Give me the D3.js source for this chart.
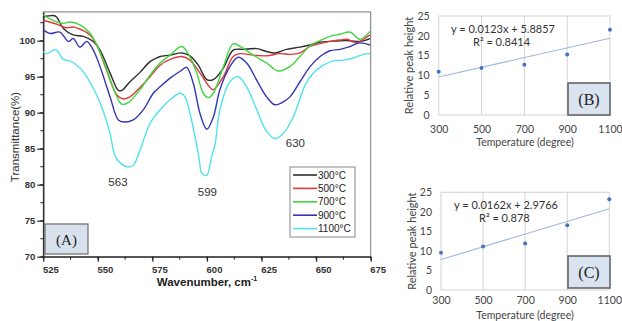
<!DOCTYPE html>
<html>
<head>
<meta charset="utf-8">
<script src="https://cdn.jsdelivr.net/npm/d3@7"></script>
<style>
  body { margin: 0; background: #fff; }
  svg { display: block; }
</style>
</head>
<body>
<div id="chart"></div>
<script>
// ---- data ----
const wavenumberTicks = [525, 550, 575, 600, 625, 650, 675];
const transmittanceTicks = [70, 75, 80, 85, 90, 95, 100];

const t300 = [[525,103.3],[529.6,103.5],[531.1,103.3],[534.2,101.7],[538.7,100.8],[543.3,100.6],[547.9,99.9],[551,98.7],[555.6,95.5],[559.4,93.1],[561,93.1],[564.7,94.3],[569.3,95.6],[573.9,97.1],[577,97.6],[578.5,97.8],[583.1,98.0],[588.4,98.3],[592.2,97.9],[596,96.6],[599.9,94.6],[602.9,94.6],[607.5,96.2],[612,98.7],[616.6,98.8],[622.8,98.9],[627.3,98.5],[631.1,98.3],[636.5,98.8],[642.6,99.1],[647.2,99.4],[651.8,99.8],[656.3,99.9],[661,100],[665.5,100],[670.1,99.9],[674.7,100.3]];
const t500 = [[525,102.8],[531.1,102.3],[535.7,101.8],[538.7,101.9],[543.3,101.4],[546.4,100.8],[549.5,99.4],[554,95.9],[558.6,92.5],[561.6,91.9],[564.7,92.2],[569.3,93.5],[573.9,95.0],[578.5,96.6],[583.1,97.4],[588.4,97.8],[592.2,97.3],[596.8,95.5],[601.4,93.5],[602.9,93.2],[607.5,95],[612,97.8],[615.1,98.2],[621.2,98.0],[627.3,97.9],[633.4,98.2],[638,98.1],[642.6,98.3],[647.2,99.2],[651.8,99.6],[656.3,99.9],[661,100.1],[664.1,100.2],[668.6,99.7],[671.6,100.2],[674.7,100.8]];
const t700 = [[525,103.6],[529.6,102.8],[534.2,102.4],[537.2,102.6],[541.8,102.2],[545.6,101.3],[548.7,99.9],[552.5,97.3],[557.1,93.4],[560.9,91.2],[563.9,91.4],[569.3,93.2],[573.9,95.2],[578.5,96.9],[583.1,98.0],[588.4,99.2],[591.4,98.2],[595.3,95.5],[598.3,92.7],[600.6,92.1],[602.9,92.7],[607.5,96.4],[612,99.6],[615.1,99.2],[621.2,98],[627.3,96.9],[632.6,95.8],[638,96.4],[642.6,97.8],[647.2,99.3],[651.8,100],[656.3,100.6],[661,100.9],[665.5,101.2],[670.1,100.2],[674.7,101.3]];
const t900 = [[525,101.5],[528.1,101.0],[532.6,101.2],[536.5,99.9],[538.7,100.3],[541.8,99.1],[544.9,99.9],[547.9,98.7],[551,96.4],[555.6,92.2],[559.4,89.0],[562.4,88.7],[566.2,89.0],[570.8,90.4],[575.4,92.7],[578.5,93.6],[583.1,94.8],[588.4,95.9],[590.7,96.3],[593.7,94.1],[596.8,89.9],[599.9,87.7],[602.9,89.4],[605.9,93.2],[610.5,96.4],[614.3,97.7],[618.2,96.9],[622.8,94.5],[627.3,92.2],[631.1,91.1],[634.9,91.5],[638,92.2],[642.6,94.3],[647.2,96.4],[651.8,97.8],[656.3,98.6],[661,98.8],[665.5,99.2],[670.1,99.7],[674.7,99.4]];
const t1100 = [[525,98.5],[526.6,98.2],[529.6,98.7],[531.1,98.7],[534.2,97.4],[537.2,97.2],[540.3,96.6],[543.3,95.7],[547.9,93.4],[551.8,90.8],[555.6,87.1],[557.1,84.8],[558.6,83.6],[563.2,82.5],[566.2,82.7],[569.3,84.8],[573.9,88.5],[578.5,90.4],[583.1,91.8],[587.6,92.7],[589.9,92.2],[592.2,89.9],[594.5,86.7],[596.5,83.4],[597.6,81.6],[599.9,81.3],[602.1,83.9],[603.7,85.6],[605.9,90.4],[610.5,94.3],[614.3,95.0],[618.2,93.6],[622.8,90.4],[627.3,87.4],[631.1,86.4],[634.9,87.1],[639.5,89.4],[644.9,93.8],[648.7,95.5],[653.3,96.6],[657.9,97.2],[662.5,97.3],[667.1,97.6],[671.6,98.1],[674.7,98.2]];

const seriesNames = ["300°C", "500°C", "700°C", "900°C", "1100°C"];
const seriesColors = ["#2e2e2e", "#dd3b3b", "#3fd63f", "#3535b2", "#4fe3ea"];
const seriesData = [t300, t500, t700, t900, t1100];

// peak labels: [text, wavenumber, transmittance]
const peakLabels = [["563", 559.2, 80.4], ["599", 600.2, 79.0], ["630", 640.5, 85.8]];

const temperatures = [300, 500, 700, 900, 1100];
const heightTicks = [0, 5, 10, 15, 20, 25];
const peakHeightB = [10.9, 11.9, 12.7, 15.3, 21.5];
const peakHeightC = [9.5, 11.1, 11.9, 16.6, 23.2];
const trendB = [9.6, 19.4];   // fitted line at 300 and 1100
const trendC = [7.8, 20.8];
const equationB = ["y = 0.0123x + 5.8857", "R² = 0.8414"];
const equationC = ["y = 0.0162x + 2.9766", "R² = 0.878"];

// ---- svg ----
const svg = d3.select("#chart").append("svg")
  .attr("width", 622).attr("height", 321)
  .style("font-family", "'Liberation Sans', Arial, sans-serif");

// ===== panel A =====
const x = d3.scaleLinear().domain([525, 675]).range([43.3, 370.7]);
const y = d3.scaleLinear().domain([70, 104]).range([256.7, 11.9]);

// frame
svg.append("rect")
  .attr("x", x(525)).attr("y", y(104))
  .attr("width", x(675) - x(525)).attr("height", y(70) - y(104))
  .attr("fill", "none").attr("stroke", "#777").attr("stroke-width", 1);

// minor ticks
const minorX = d3.range(525, 675.1, 12.5);
const minorY = d3.range(70, 104, 2.5);
svg.append("g").selectAll("line").data(minorX).enter().append("line")
  .attr("x1", d => x(d)).attr("x2", d => x(d))
  .attr("y1", y(70)).attr("y2", y(70) + 3)
  .attr("stroke", "#222").attr("stroke-width", 1);
svg.append("g").selectAll("line").data(minorY).enter().append("line")
  .attr("y1", d => y(d)).attr("y2", d => y(d))
  .attr("x1", x(525)).attr("x2", x(525) - 3)
  .attr("stroke", "#222").attr("stroke-width", 1);

// axes
const xAxis = svg.append("g")
  .attr("transform", "translate(0," + y(70) + ")")
  .call(d3.axisBottom(x).tickValues(wavenumberTicks).tickFormat(d3.format("d")).tickSize(5).tickSizeOuter(0));
xAxis.selectAll("text").attr("dx", 7).attr("dy", "0.9em");

const yAxis = svg.append("g")
  .attr("transform", "translate(" + x(525) + ",0)")
  .call(d3.axisLeft(y).tickValues(transmittanceTicks).tickSize(6).tickSizeOuter(0));

[xAxis, yAxis].forEach(a => {
  a.select(".domain").attr("stroke", "#222").attr("stroke-width", 1.3);
  a.selectAll(".tick line").attr("stroke", "#222").attr("stroke-width", 1.2);
  a.selectAll("text").attr("fill", "#333").style("font-size", "9.5px").style("font-weight", "bold")
    .style("font-family", "'Liberation Sans', Arial, sans-serif");
});
yAxis.selectAll("text").attr("x", -8);

// axis titles
const xt = svg.append("text")
  .attr("x", 207).attr("y", 286)
  .attr("text-anchor", "middle")
  .style("font-size", "11.5px").style("font-weight", "bold").attr("fill", "#222")
  .text("Wavenumber, cm");
xt.append("tspan").attr("dy", -5).style("font-size", "7px").text("-1");

svg.append("text")
  .attr("transform", "translate(19,137) rotate(-90)")
  .attr("text-anchor", "middle")
  .style("font-size", "11.5px").attr("fill", "#333")
  .text("Transmittance(%)");

// curves
const line = d3.line()
  .x(d => x(d[0])).y(d => y(d[1]))
  .curve(d3.curveCatmullRom.alpha(0.5));

svg.append("g").selectAll("path").data(seriesData).enter().append("path")
  .attr("d", line)
  .attr("fill", "none")
  .attr("stroke", (d, i) => seriesColors[i])
  .attr("stroke-width", 1.4);

// peak labels
svg.append("g").selectAll("text").data(peakLabels).enter().append("text")
  .attr("x", d => x(d[1])).attr("y", d => y(d[2]))
  .attr("text-anchor", "middle").attr("dominant-baseline", "central")
  .style("font-size", "11.5px").attr("fill", "#333")
  .text(d => d[0]);

// legend
const legend = svg.append("g").attr("transform", "translate(290,167)");
legend.append("rect")
  .attr("width", 65).attr("height", 70)
  .attr("fill", "#fff").attr("stroke", "#888").attr("stroke-width", 1);
const li = legend.selectAll("g").data(seriesNames).enter().append("g")
  .attr("transform", (d, i) => "translate(0," + (8 + i * 13.4) + ")");
li.append("line")
  .attr("x1", 3).attr("x2", 27)
  .attr("stroke", (d, i) => seriesColors[i]).attr("stroke-width", 1.6);
li.append("text")
  .attr("x", 28).attr("dy", "0.35em")
  .style("font-size", "10px").attr("fill", "#222")
  .text(d => d);

// (A) box
svg.append("rect")
  .attr("x", 45).attr("y", 224).attr("width", 43).attr("height", 30)
  .attr("fill", "#d8e1ee").attr("stroke", "#6d6d6d").attr("stroke-width", 1.2);
svg.append("text")
  .attr("x", 66.5).attr("y", 240).attr("dominant-baseline", "central")
  .attr("text-anchor", "middle")
  .style("font-family", "'Liberation Serif', 'Times New Roman', serif").style("font-size", "15px")
  .attr("fill", "#222")
  .text("(A)");

// ===== panels B and C =====
function drawScatter(opts) {
  const sx = d3.scaleLinear().domain([300, 1100]).range([opts.left, opts.right]);
  const sy = d3.scaleLinear().domain([0, 25]).range([opts.bottom, opts.top]);
  const g = svg.append("g").style("font-family", "Lato, 'Open Sans', sans-serif");

  // plot border and vertical gridlines
  g.append("rect")
    .attr("x", sx(300)).attr("y", sy(25))
    .attr("width", sx(1100) - sx(300)).attr("height", sy(0) - sy(25))
    .attr("fill", "none").attr("stroke", "#d4d4d4").attr("stroke-width", 1);
  g.append("g").selectAll("line").data(temperatures.slice(1, -1)).enter().append("line")
    .attr("x1", d => sx(d)).attr("x2", d => sx(d))
    .attr("y1", sy(25)).attr("y2", sy(0))
    .attr("stroke", "#d4d4d4").attr("stroke-width", 1);

  const ax = g.append("g").attr("transform", "translate(0," + sy(0) + ")")
    .call(d3.axisBottom(sx).tickValues(temperatures).tickFormat(d3.format("d")).tickSize(0).tickPadding(opts.tickPad));
  const ay = g.append("g").attr("transform", "translate(" + sx(300) + ",0)")
    .call(d3.axisLeft(sy).tickValues(heightTicks).tickSize(0).tickPadding(9));
  [ax, ay].forEach(a => {
    a.select(".domain").remove();
    a.selectAll("text").style("font-size", "10.5px").attr("fill", "#444")
      .style("font-family", "Lato, 'Open Sans', sans-serif");
  });

  g.append("text")
    .attr("x", 525).attr("y", opts.titleY)
    .attr("text-anchor", "middle").attr("dominant-baseline", "central")
    .style("font-size", "10.5px").attr("fill", "#444")
    .text("Temperature (degree)");
  g.append("text")
    .attr("transform", "translate(" + opts.ylabelX + "," + (opts.top + opts.bottom) / 2 + ") rotate(-90)")
    .attr("text-anchor", "middle").attr("dominant-baseline", "central")
    .style("font-size", "11px").attr("fill", "#444")
    .text("Relative peak height");

  // trendline
  g.append("line")
    .attr("x1", sx(300)).attr("y1", sy(opts.trend[0]))
    .attr("x2", sx(1100)).attr("y2", sy(opts.trend[1]))
    .attr("stroke", "#9cb7e0").attr("stroke-width", 1.1);

  // points
  g.append("g").selectAll("circle").data(opts.values).enter().append("circle")
    .attr("cx", (d, i) => sx(temperatures[i])).attr("cy", d => sy(d))
    .attr("r", 2).attr("fill", "#4472c4");

  // equation
  g.append("text")
    .attr("x", opts.eqX).attr("y", opts.top + 12.5)
    .attr("dominant-baseline", "central")
    .style("font-size", "11px").attr("fill", "#333")
    .text(opts.equation[0]);
  g.append("text")
    .attr("x", opts.eqX + opts.r2dx).attr("y", opts.top + 25.5)
    .attr("dominant-baseline", "central")
    .style("font-size", "11px").attr("fill", "#333")
    .text(opts.equation[1]);

  // label box
  g.append("rect")
    .attr("x", 568).attr("y", opts.boxY).attr("width", 42).attr("height", opts.boxH)
    .attr("fill", "#dae3f0").attr("stroke", "#5e5e5e").attr("stroke-width", 1.5);
  g.append("text")
    .attr("x", 589).attr("y", opts.boxY + opts.boxH / 2)
    .attr("text-anchor", "middle").attr("dominant-baseline", "central")
    .style("font-family", "'Liberation Serif', 'Times New Roman', serif").style("font-size", "16px")
    .attr("fill", "#222")
    .text(opts.label);
}

drawScatter({
  left: 438.7, right: 610, top: 16, bottom: 115, ylabelX: 408, tickPad: 11, titleY: 141.7,
  values: peakHeightB, trend: trendB, equation: equationB, eqX: 451, r2dx: 22,
  boxY: 83, boxH: 32, label: "(B)"
});
drawScatter({
  left: 441, right: 609.3, top: 192.3, bottom: 290, ylabelX: 411, tickPad: 7, titleY: 315,
  values: peakHeightC, trend: trendC, equation: equationC, eqX: 454, r2dx: 25,
  boxY: 256, boxH: 32, label: "(C)"
});
</script>
</body>
</html>
